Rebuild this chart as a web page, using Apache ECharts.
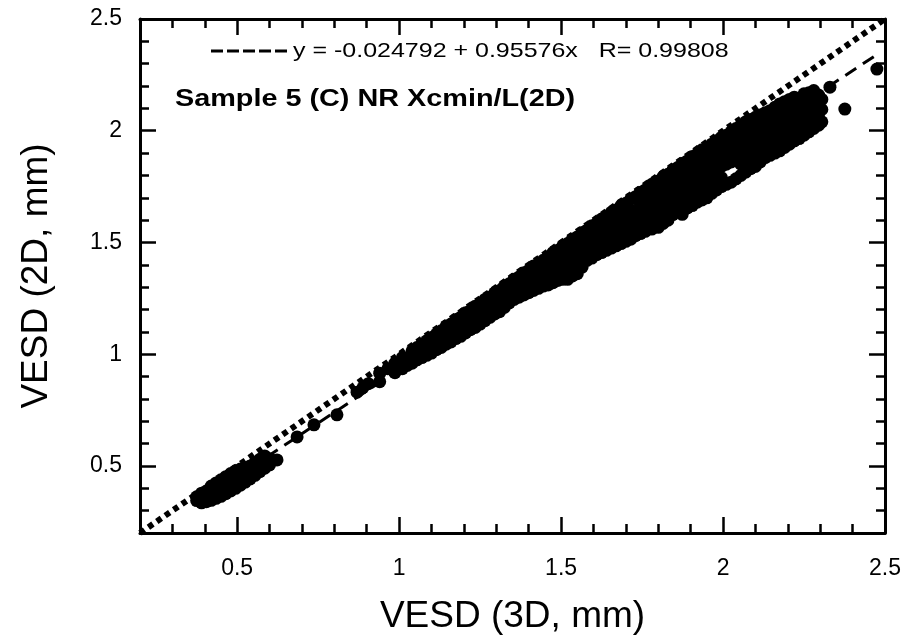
<!DOCTYPE html>
<html>
<head>
<meta charset="utf-8">
<script src="https://cdn.jsdelivr.net/npm/echarts@6/dist/echarts.min.js"></script>
<style>html,body{margin:0;padding:0;background:#fff}#chart{width:908px;height:642px}</style>
</head>
<body>
<div id="chart"></div>
<script>
// ---- Data ----
var xTickLabels = [0.5, 1, 1.5, 2, 2.5];
var yTickLabels = [0.5, 1, 1.5, 2, 2.5];
var axisMin = 0.2, axisMax = 2.5;

var fitIntercept = -0.024792;
var fitSlope = 0.95576;
var fitR = 0.99808;
var fitName = 'y = -0.024792 + 0.95576x   R= 0.99808';
var sampleLabel = 'Sample 5 (C) NR Xcmin/L(2D)';

// small-particle cluster [VESD 3D, VESD 2D]
var lowerCluster = [
  [0.375,0.345],[0.375,0.362],
  [0.39,0.335],[0.39,0.356],[0.39,0.378],
  [0.405,0.34],[0.405,0.362],[0.405,0.388],
  [0.42,0.346],[0.42,0.37],[0.42,0.396],[0.42,0.41],
  [0.435,0.355],[0.435,0.38],[0.435,0.405],[0.435,0.424],
  [0.45,0.364],[0.45,0.39],[0.45,0.414],[0.45,0.438],
  [0.465,0.376],[0.465,0.40],[0.465,0.426],[0.465,0.452],
  [0.48,0.388],[0.48,0.414],[0.48,0.44],[0.48,0.466],
  [0.495,0.40],[0.495,0.428],[0.495,0.455],[0.495,0.478],
  [0.51,0.414],[0.51,0.443],[0.51,0.47],[0.51,0.486],
  [0.525,0.428],[0.525,0.457],[0.525,0.484],
  [0.54,0.442],[0.54,0.47],[0.54,0.5],
  [0.555,0.458],[0.555,0.486],[0.555,0.515],
  [0.57,0.474],[0.57,0.5],[0.57,0.53],
  [0.585,0.49],[0.585,0.516],[0.585,0.545],
  [0.60,0.505],[0.60,0.532],
  [0.623,0.527]
];

// sparse points between the cluster and the main cloud
var midPoints = [
  [0.685,0.63],[0.737,0.684],[0.808,0.729],
  [0.87,0.83],[0.888,0.85],[0.905,0.868],
  [0.94,0.877],[0.94,0.915],[0.965,0.935],
  [0.987,0.917],[0.987,0.96]
];

// main cloud
var mainCloud = [
  [1.01,0.935],[1.01,0.96],[1.01,0.985],
  [1.04,0.96],[1.04,0.99],[1.04,1.015],
  [1.07,0.985],[1.07,1.015],[1.07,1.045],
  [1.10,1.005],[1.10,1.04],[1.10,1.075],
  [1.13,1.03],[1.13,1.065],[1.13,1.105],
  [1.16,1.055],[1.16,1.09],[1.16,1.135],
  [1.19,1.08],[1.19,1.12],[1.19,1.165],
  [1.22,1.11],[1.22,1.15],[1.22,1.195],
  [1.25,1.135],[1.25,1.175],[1.25,1.225],
  [1.28,1.165],[1.28,1.205],[1.28,1.255],
  [1.31,1.19],[1.31,1.23],[1.31,1.285],
  [1.34,1.23],[1.34,1.27],[1.34,1.315],
  [1.37,1.255],[1.37,1.295],[1.37,1.345],
  [1.40,1.275],[1.40,1.32],[1.40,1.375],
  [1.43,1.295],[1.43,1.34],[1.43,1.365],[1.43,1.405],
  [1.46,1.31],[1.46,1.355],[1.46,1.395],[1.46,1.435],
  [1.49,1.33],[1.49,1.37],[1.49,1.415],[1.49,1.465],
  [1.52,1.335],[1.52,1.385],[1.52,1.43],[1.52,1.495],
  [1.55,1.36],[1.55,1.41],[1.55,1.455],[1.55,1.525],
  [1.58,1.42],[1.58,1.46],[1.58,1.51],[1.58,1.555],
  [1.61,1.445],[1.61,1.485],[1.61,1.54],[1.61,1.585],
  [1.64,1.465],[1.64,1.505],[1.64,1.565],[1.64,1.615],
  [1.67,1.485],[1.67,1.53],[1.67,1.59],[1.67,1.645],
  [1.70,1.505],[1.70,1.55],[1.70,1.60],[1.70,1.675],
  [1.73,1.53],[1.73,1.57],[1.73,1.625],[1.73,1.705],
  [1.76,1.55],[1.76,1.595],[1.76,1.65],[1.76,1.69],[1.76,1.735],
  [1.80,1.568],[1.80,1.615],[1.80,1.665],[1.80,1.72],[1.80,1.775],
  [1.83,1.60],[1.83,1.645],[1.83,1.695],[1.83,1.75],[1.83,1.805],
  [1.86,1.665],[1.86,1.71],[1.86,1.755],[1.86,1.835],
  [1.874,1.626],
  [1.89,1.655],[1.89,1.70],[1.89,1.745],[1.89,1.80],[1.89,1.865],
  [1.92,1.68],[1.92,1.725],[1.92,1.77],[1.92,1.83],[1.92,1.895],
  [1.95,1.70],[1.95,1.75],[1.95,1.80],[1.95,1.855],[1.95,1.925],
  [1.98,1.735],[1.98,1.78],[1.98,1.83],[1.98,1.885],[1.98,1.955],
  [2.01,1.76],[2.01,1.85],[2.01,1.905],[2.01,1.98],
  [2.04,1.785],[2.04,1.875],[2.04,1.93],[2.04,2.01],
  [2.07,1.815],[2.07,1.865],[2.07,1.91],[2.07,1.96],[2.07,2.04],
  [2.10,1.84],[2.10,1.89],[2.10,1.94],[2.10,1.99],[2.10,2.06],
  [2.13,1.88],[2.13,1.925],[2.13,1.97],[2.13,2.02],[2.13,2.08],
  [2.16,1.90],[2.16,1.95],[2.16,2.00],[2.16,2.05],[2.16,2.105],
  [2.19,1.925],[2.19,1.975],[2.19,2.025],[2.19,2.075],[2.19,2.13],
  [2.22,1.955],[2.22,2.00],[2.22,2.05],[2.22,2.10],[2.22,2.15],
  [2.25,1.98],[2.25,2.03],[2.25,2.08],[2.25,2.13],[2.25,2.165],
  [2.28,2.01],[2.28,2.055],[2.28,2.105],[2.28,2.15],[2.28,2.18],
  [2.305,2.04],[2.305,2.095],[2.305,2.14],
  [2.33,2.195]
];

// more points of the main cloud, between the columns above
var mainCloudFill = [
  [1.025,0.95],[1.025,0.975],
  [1.055,0.975],[1.055,1.005],[1.055,1.03],
  [1.085,0.995],[1.085,1.03],[1.085,1.06],
  [1.115,1.02],[1.115,1.055],[1.115,1.09],
  [1.145,1.045],[1.145,1.08],[1.145,1.115],[1.145,1.125],
  [1.175,1.07],[1.175,1.105],[1.175,1.14],[1.175,1.155],
  [1.205,1.095],[1.205,1.135],[1.205,1.17],[1.205,1.185],
  [1.235,1.12],[1.235,1.16],[1.235,1.20],[1.235,1.215],
  [1.265,1.15],[1.265,1.19],[1.265,1.23],[1.265,1.245],
  [1.295,1.18],[1.295,1.215],[1.295,1.255],[1.295,1.275],
  [1.325,1.21],[1.325,1.25],[1.325,1.29],[1.325,1.305],
  [1.355,1.245],[1.355,1.28],[1.355,1.32],[1.355,1.335],
  [1.385,1.265],[1.385,1.305],[1.385,1.345],[1.385,1.365],
  [1.415,1.285],[1.415,1.33],[1.415,1.37],[1.415,1.395],
  [1.445,1.305],[1.445,1.345],[1.445,1.385],[1.445,1.42],
  [1.475,1.32],[1.475,1.36],[1.475,1.40],[1.475,1.44],[1.475,1.455],
  [1.505,1.335],[1.505,1.375],[1.505,1.42],[1.505,1.46],[1.505,1.485],
  [1.535,1.35],[1.535,1.395],[1.535,1.44],[1.535,1.48],[1.535,1.515],
  [1.565,1.39],[1.565,1.435],[1.565,1.48],[1.565,1.52],[1.565,1.545],
  [1.595,1.43],[1.595,1.47],[1.595,1.51],[1.595,1.55],[1.595,1.575],
  [1.625,1.455],[1.625,1.495],[1.625,1.54],[1.625,1.58],[1.625,1.605],
  [1.655,1.475],[1.655,1.52],[1.655,1.56],[1.655,1.60],[1.655,1.635],
  [1.685,1.495],[1.685,1.54],[1.685,1.58],[1.685,1.625],[1.685,1.665],
  [1.715,1.515],[1.715,1.56],[1.715,1.60],[1.715,1.645],[1.715,1.695],
  [1.745,1.54],[1.745,1.58],[1.745,1.625],[1.745,1.67],[1.745,1.725],
  [1.78,1.56],[1.78,1.605],[1.78,1.645],[1.78,1.69],[1.78,1.74],[1.78,1.76],
  [1.815,1.585],[1.815,1.63],[1.815,1.68],[1.815,1.725],[1.815,1.77],[1.815,1.795],
  [1.845,1.625],[1.845,1.67],[1.845,1.715],[1.845,1.76],[1.845,1.80],[1.845,1.825],
  [1.875,1.675],[1.875,1.72],[1.875,1.77],[1.875,1.815],[1.875,1.855],
  [1.905,1.665],[1.905,1.71],[1.905,1.755],[1.905,1.80],[1.905,1.845],[1.905,1.885],
  [1.935,1.69],[1.935,1.735],[1.935,1.785],[1.935,1.83],[1.935,1.875],[1.935,1.915],
  [1.965,1.72],[1.965,1.765],[1.965,1.81],[1.965,1.855],[1.965,1.90],[1.965,1.94],
  [1.995,1.75],[1.995,1.79],[1.995,1.84],[1.995,1.88],[1.995,1.93],[1.995,1.97],
  [2.025,1.77],[2.025,1.86],[2.025,1.91],[2.025,1.955],[2.025,1.995],
  [2.055,1.80],[2.055,1.85],[2.055,1.895],[2.055,1.94],[2.055,1.985],[2.055,2.025],
  [2.085,1.83],[2.085,1.875],[2.085,1.92],[2.085,1.965],[2.085,2.01],[2.085,2.05],
  [2.115,1.86],[2.115,1.905],[2.115,1.95],[2.115,1.995],[2.115,2.04],[2.115,2.07],
  [2.145,1.89],[2.145,1.935],[2.145,1.98],[2.145,2.025],[2.145,2.065],[2.145,2.09],
  [2.175,1.91],[2.175,1.955],[2.175,2.00],[2.175,2.045],[2.175,2.09],[2.175,2.12],
  [2.205,1.94],[2.205,1.985],[2.205,2.03],[2.205,2.075],[2.205,2.115],[2.205,2.14],
  [2.235,1.965],[2.235,2.01],[2.235,2.055],[2.235,2.10],[2.235,2.14],
  [2.265,1.995],[2.265,2.04],[2.265,2.09],[2.265,2.135],[2.265,2.17],
  [2.295,2.025],[2.295,2.075],[2.295,2.12],[2.295,2.16]
];

var outliers = [[2.376,2.097],[2.475,2.276]];

// ---- Chart ----
var allPoints = lowerCluster.concat(midPoints, mainCloud, mainCloudFill, outliers);
var xs = allPoints.map(function(p){return p[0];});
var fitXmin = Math.min.apply(null, xs), fitXmax = Math.max.apply(null, xs);
var fitLine = [[fitXmin, fitIntercept + fitSlope*fitXmin],[fitXmax, fitIntercept + fitSlope*fitXmax]];
var identityLine = [[axisMin, axisMin],[axisMax, axisMax]];

var FONT = 'Liberation Sans, Arial, Helvetica, sans-serif';
var BLACK = '#000';

function majorX(pos, withLabels, name){
  return {
    type:'value', min:axisMin, max:axisMax, position:pos,
    axisLine:{show:true, onZero:false, lineStyle:{color:BLACK, width:3}},
    axisTick:{show:true, inside:true, length:16, customValues:xTickLabels, lineStyle:{color:BLACK, width:2.5}},
    axisLabel:{show:withLabels, customValues:xTickLabels, margin:24, fontSize:23, color:BLACK, fontFamily:FONT,
      formatter:function(v){return String(v);}},
    splitLine:{show:false},
    name:name||'', nameLocation:'middle', nameGap:65,
    nameTextStyle:{fontSize:37, color:BLACK, fontFamily:FONT}
  };
}
function minorX(pos){
  return {
    type:'value', min:axisMin, max:axisMax, interval:0.1, position:pos,
    axisLine:{show:false, onZero:false},
    axisTick:{show:true, inside:true, length:9, lineStyle:{color:BLACK, width:2.5}},
    axisLabel:{show:false}, splitLine:{show:false}
  };
}
function majorY(pos, withLabels, name){
  return {
    type:'value', min:axisMin, max:axisMax, position:pos,
    axisLine:{show:true, onZero:false, lineStyle:{color:BLACK, width:3}},
    axisTick:{show:true, inside:true, length:16, customValues:yTickLabels, lineStyle:{color:BLACK, width:2.5}},
    axisLabel:{show:withLabels, customValues:yTickLabels, margin:18, fontSize:23, color:BLACK, fontFamily:FONT,
      formatter:function(v){return String(v);}},
    splitLine:{show:false},
    name:name||'', nameLocation:'middle', nameGap:85, nameRotate:90,
    nameTextStyle:{fontSize:37, color:BLACK, fontFamily:FONT}
  };
}
function minorY(pos){
  return {
    type:'value', min:axisMin, max:axisMax, interval:0.1, position:pos,
    axisLine:{show:false, onZero:false},
    axisTick:{show:true, inside:true, length:9, lineStyle:{color:BLACK, width:2.5}},
    axisLabel:{show:false}, splitLine:{show:false}
  };
}

var chart = echarts.init(document.getElementById('chart'), null, {renderer:'canvas'});
chart.setOption({
  animation:false,
  backgroundColor:'#fff',
  grid:{left:140, right:23, top:19, bottom:109},
  xAxis:[majorX('bottom', true, 'VESD (3D, mm)'), minorX('bottom'), majorX('top', false), minorX('top')],
  yAxis:[majorY('left', true, 'VESD (2D, mm)'), minorY('left'), majorY('right', false), minorY('right')],
  graphic:[
    {type:'line', shape:{x1:211, y1:51, x2:287, y2:51},
      style:{stroke:BLACK, lineWidth:3, lineDash:[12,4]}, z:10},
    {type:'text', x:293, y:51, scaleX:1.19,
      style:{text:fitName, x:0, y:0, fill:BLACK, fontSize:21, fontFamily:FONT, verticalAlign:'middle', align:'left'}, z:10},
    {type:'text', x:175, y:99, scaleX:1.2,
      style:{text:sampleLabel, x:0, y:0, fill:BLACK, fontSize:24, fontWeight:'bold', fontFamily:FONT, verticalAlign:'middle', align:'left'}, z:10}
  ],
  series:[
    {type:'line', name:'identity', data:identityLine, xAxisIndex:0, yAxisIndex:0, symbol:'none',
      lineStyle:{color:BLACK, width:6, type:[5.5,4.7], cap:'butt'}, z:3},
    {type:'scatter', name:'points', data:allPoints, xAxisIndex:0, yAxisIndex:0, symbol:'circle', symbolSize:13,
      itemStyle:{color:BLACK, opacity:1}, z:4},
    {type:'line', name:fitName, data:fitLine, xAxisIndex:0, yAxisIndex:0, symbol:'none',
      lineStyle:{color:BLACK, width:3, type:[13,8]}, z:2}
  ]
});
</script>
</body>
</html>
